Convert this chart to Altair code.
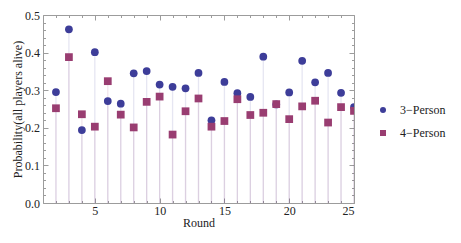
import altair as alt
import pandas as pd

rounds = list(range(2, 26))
p3 = [0.295, 0.462, 0.194, 0.401, 0.271, 0.264, 0.345, 0.351, 0.315, 0.309, 0.305, 0.346,
      0.220, 0.322, 0.292, 0.282, 0.389, 0.262, 0.294, 0.378, 0.321, 0.346, 0.293, 0.255]
p4 = [0.252, 0.388, 0.236, 0.203, 0.324, 0.235, 0.201, 0.269, 0.283, 0.182, 0.244, 0.278,
      0.203, 0.218, 0.276, 0.234, 0.240, 0.263, 0.223, 0.257, 0.272, 0.214, 0.255, 0.245]
series = ["3\u2212Person", "4\u2212Person"]
colors = ["#3d3d99", "#993d71"]
x_major = [5, 10, 15, 20, 25]
x_minor = [v for v in range(1, 26) if v % 5 != 0]
y_major = [0.0, 0.1, 0.2, 0.3, 0.4, 0.5]
y_minor = [round(i * 0.02, 2) for i in range(26) if i % 5 != 0]

rows = []
for name, vals in zip(series, [p3, p4]):
    for r, v in zip(rounds, vals):
        rows.append({"Round": r, "Probability": v, "Series": name, "Stem": name})
df = pd.DataFrame(rows)

FONT = "Liberation Serif"
GREY = "#9c9c9c"
xs = alt.Scale(domain=[1, 25], nice=False, zero=False)
ys = alt.Scale(domain=[0, 0.5], nice=False)


def xaxis(orient, values, size, labels):
    kw = dict(orient=orient, values=values, tickSize=size, offset=-size, domain=False,
              grid=False, labels=labels, tickColor=GREY, tickWidth=1)
    if labels:
        kw.update(labelFont=FONT, labelFontSize=12, labelColor="#222", labelPadding=2,
                  titleFont=FONT, titleFontSize=12, titleFontWeight="normal",
                  titleColor="#222", titlePadding=1)
    return alt.Axis(**kw)


def yaxis(orient, values, size, labels):
    kw = dict(orient=orient, values=values, tickSize=size, offset=-size, domain=False,
              grid=False, labels=labels, tickColor=GREY, tickWidth=1)
    if labels:
        kw.update(labelFont=FONT, labelFontSize=12, labelColor="#222", labelPadding=3.5,
                  format=".1f", titleFont=FONT, titleFontSize=12,
                  titleFontWeight="normal", titleColor="#222", titlePadding=0)
    return alt.Axis(**kw)


base = alt.Chart(df)

legend = alt.Legend(title=None, orient="none", legendX=334, legendY=89, padding=0,
                    labelFont=FONT, labelFontSize=12, labelColor="#222",
                    symbolSize=36, labelOffset=11, rowPadding=11, symbolStrokeWidth=0)

stems = base.mark_rule(strokeWidth=1.3, strokeOpacity=0.13, clip=True).encode(
    x=alt.X("Round:Q", scale=xs, axis=xaxis("bottom", x_major, 5, True), title="Round"),
    y=alt.Y("Probability:Q", scale=ys, axis=yaxis("left", y_major, 5, True),
            title="Probability(all players alive)"),
    y2=alt.datum(0),
    stroke=alt.Stroke("Stem:N", scale=alt.Scale(range=colors), legend=None),
)

points = base.mark_point(filled=True, size=60, opacity=1, clip=True).encode(
    x=alt.X("Round:Q", scale=xs, axis=xaxis("bottom", x_minor, 2.5, False), title=None),
    y=alt.Y("Probability:Q", scale=ys, axis=yaxis("left", y_minor, 2.5, False), title=None),
    fill=alt.Fill("Series:N", scale=alt.Scale(domain=series, range=colors), legend=legend),
    shape=alt.Shape("Series:N", scale=alt.Scale(domain=series, range=["circle", "square"]),
                    legend=legend),
)

top_major = base.mark_point(opacity=0, size=1).encode(
    x=alt.X("Round:Q", scale=xs, axis=xaxis("top", x_major, 5, False), title=None),
    y=alt.Y("Probability:Q", scale=ys, axis=yaxis("right", y_major, 5, False), title=None),
)
top_minor = base.mark_point(opacity=0, size=1).encode(
    x=alt.X("Round:Q", scale=xs, axis=xaxis("top", x_minor, 2.5, False), title=None),
    y=alt.Y("Probability:Q", scale=ys, axis=yaxis("right", y_minor, 2.5, False), title=None),
)

chart = alt.layer(stems, points, top_major, top_minor).resolve_axis(
    x="independent", y="independent"
).properties(
    width=311, height=188, autosize="none",
    padding={"left": 35, "top": 7, "right": 99, "bottom": 32},
    background="white",
).configure_view(stroke=GREY, strokeWidth=1)

chart.save("out.html", embed_options={"renderer": "svg", "actions": False})
